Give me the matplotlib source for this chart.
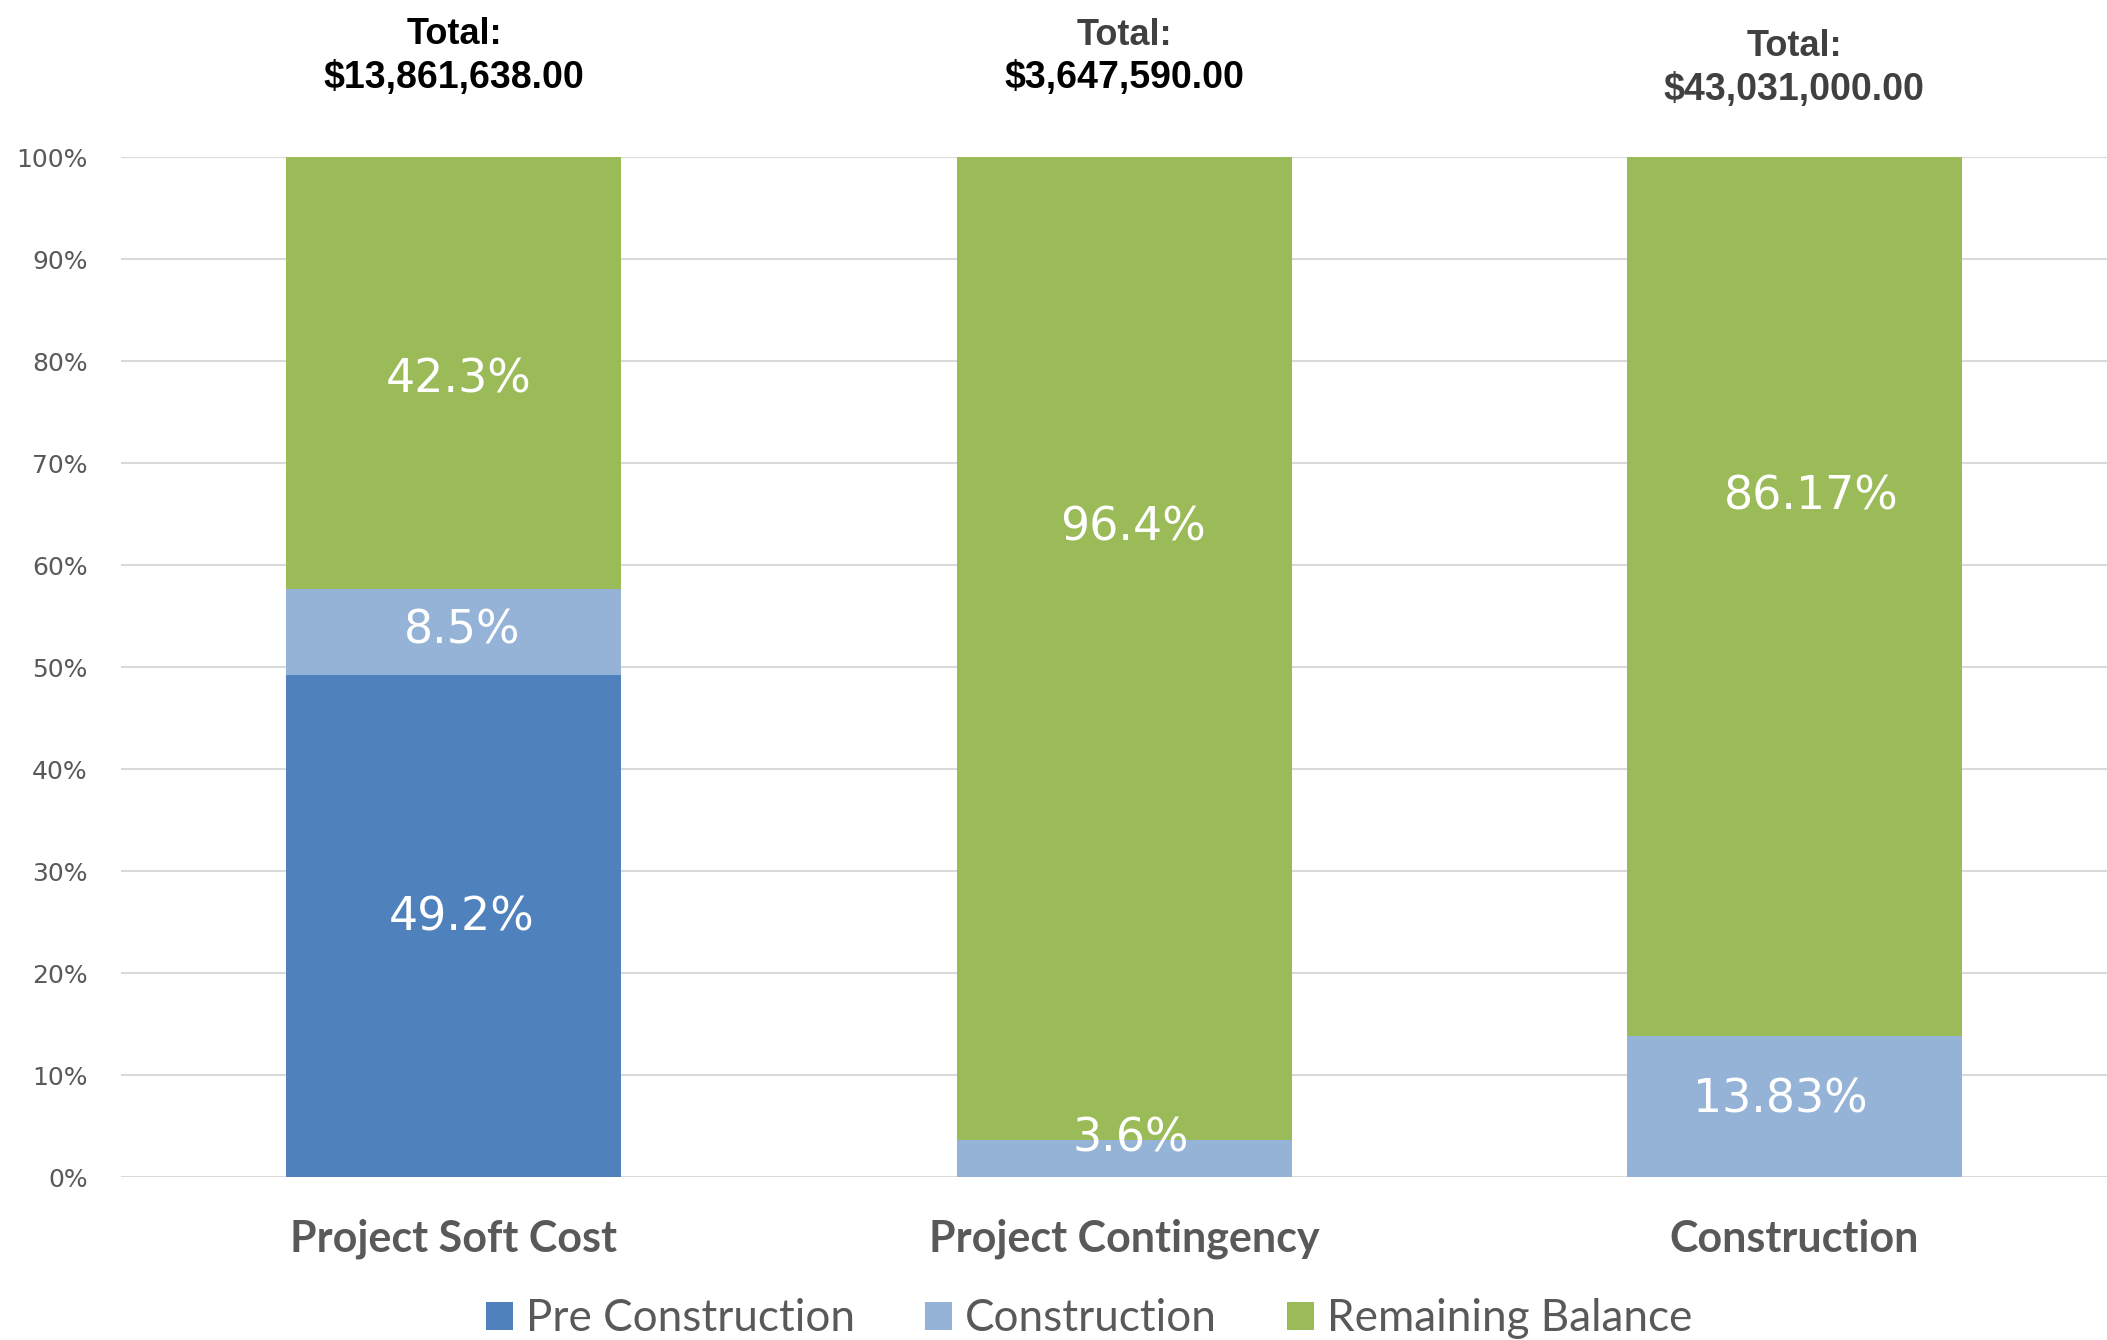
import numpy as np
import matplotlib
matplotlib.use("Agg")
import matplotlib.pyplot as plt
import matplotlib.transforms as mtransforms

# data
categories = ["Project Soft Cost", "Project Contingency", "Construction"]
series_names = ["Pre Construction", "Construction", "Remaining Balance"]
pre_construction = [49.2, 0.0, 0.0]
construction = [8.5, 3.6, 13.83]
remaining = [42.3, 96.4, 86.17]
totals = ["$13,861,638.00", "$3,647,590.00", "$43,031,000.00"]

# label text per segment, and where Excel left them (data coords)
seg_labels = [["49.2%", "8.5%", "42.3%"], [None, "3.6%", "96.4%"], [None, "13.83%", "86.17%"]]
label_y = [[25.4, 53.5, 78.1], [None, 3.7, 63.6], [None, 7.6, 66.7]]
label_dx = [[0.012, 0.012, 0.007], [None, 0.010, 0.013], [None, -0.020, 0.025]]

colors = ["#4F81BD", "#95B3D7", "#9BBB59"]
grey = "#595959"

fig = plt.figure(figsize=(21.07, 13.40), dpi=100)
ax = fig.add_axes([0.0574, 0.1216, 0.9426, 0.7612])

x = np.arange(len(categories))
bottom = np.zeros(len(categories))
for vals, name, c in zip([pre_construction, construction, remaining], series_names, colors):
    ax.bar(x, vals, width=0.5, bottom=bottom, color=c, label=name, zorder=3)
    bottom += np.array(vals)

for i in range(len(categories)):
    for j in range(3):
        if seg_labels[i][j] is None:
            continue
        ax.text(x[i] + label_dx[i][j], label_y[i][j], seg_labels[i][j], ha="center", va="center",
                color="white", fontsize=33, family="DejaVu Sans", zorder=4)

ax.set_xlim(-0.497, 2.467)
ax.set_ylim(0, 100)
ax.set_yticks(np.arange(0, 101, 10))
ax.set_yticklabels([f"{v}%" for v in range(0, 101, 10)], color=grey, fontsize=18, family="DejaVu Sans")
ax.set_xticks(x)
ax.set_xticklabels(categories, color=grey, fontsize=31, family="Lato", fontweight="bold")
ax.tick_params(axis="x", length=0, pad=30)
ax.tick_params(axis="y", length=0, pad=24)
ax.grid(axis="y", color="#D9D9D9", linewidth=1.5, zorder=0)
for s in ax.spines.values():
    s.set_visible(False)

# totals above bars
trans = mtransforms.blended_transform_factory(ax.transData, ax.transAxes)
total_y = [(1.1206, 1.0775), (1.1196, 1.0775), (1.1088, 1.0657)]
total_col = [("black", "black"), ("#404040", "black"), ("#404040", "#404040")]
for i in range(len(categories)):
    ax.text(x[i], total_y[i][0], "Total:", transform=trans, ha="center", va="center",
            fontsize=26, fontweight="bold", family="Liberation Sans", color=total_col[i][0])
    ax.text(x[i], total_y[i][1], totals[i], transform=trans, ha="center", va="center",
            fontsize=27, fontweight="bold", family="Liberation Sans", color=total_col[i][1])

leg = fig.legend(loc="center", bbox_to_anchor=(0.517, 0.016), ncol=3, frameon=False,
                 prop={"family": "Lato", "size": 31.7}, handlelength=0.6, handleheight=0.6,
                 handletextpad=0.3, columnspacing=1.6)
for t in leg.get_texts():
    t.set_color(grey)

fig.savefig("out.png", dpi=100)
